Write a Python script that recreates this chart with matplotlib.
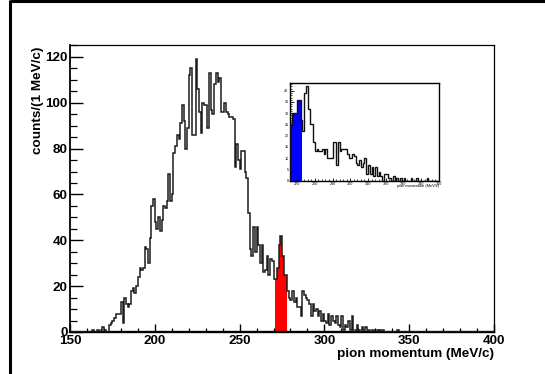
import matplotlib
matplotlib.use('Agg')
import matplotlib.pyplot as plt
import numpy as np
from matplotlib.ticker import MultipleLocator
from matplotlib.lines import Line2D

# ---------------- data ----------------
main_start = 150  # first bin low edge (MeV/c), 1 MeV/c bins
main_counts = [
    0, 0, 0, 0, 0, 0, 0, 0, 0, 0,            # 150-159
    0, 0, 0, 1, 0, 0, 1, 0, 1, 2,            # 160-169
    1, 0, 0, 3, 4, 5, 6, 8, 8, 8,            # 170-179
    13, 4, 15, 12, 11, 12, 18, 19, 17, 20,   # 180-189
    24, 28, 27, 28, 37, 36, 30, 41, 55, 58,  # 190-199
    48, 45, 50, 44, 49, 55, 54, 57, 69, 57,  # 200-209
    60, 78, 81, 86, 84, 91, 99, 92, 80, 89,  # 210-219
    112, 115, 86, 86, 119, 106, 96, 87, 100, 99,   # 220-229
    99, 89, 113, 97, 95, 108, 113, 109, 111, 96,   # 230-239
    96, 100, 96, 95, 94, 94, 93, 72, 82, 75,       # 240-249
    71, 79, 79, 70, 67, 52, 36, 33, 46, 35,        # 250-259
    46, 38, 30, 38, 26, 27, 33, 25, 32, 31,        # 260-269
    23, 23, 28, 38, 42, 33, 25, 25, 18, 15,        # 270-279
    14, 18, 13, 15, 11, 11, 7, 18, 16, 15,         # 280-289
    14, 12, 7, 12, 9, 10, 7, 9, 5, 8,              # 290-299
    5, 4, 8, 3, 7, 5, 4, 7, 3, 2,                  # 300-309
    7, 1, 3, 2, 5, 1, 7, 0, 1, 3,                  # 310-319
    1, 0, 2, 1, 2, 1, 1, 0, 1, 0,                  # 320-329
    0, 1, 0, 1, 1, 0, 0, 0, 0, 0,                  # 330-339
    0, 0, 0, 1, 0, 0, 0, 0, 0, 0,                  # 340-349
] + [0] * 50                                       # 350-399
red_range = (271, 278)

inset_start = 266
inset_counts = [
    25, 30, 30, 30, 36, 36, 27, 22, 39, 42,   # 266-275
    32, 25, 25, 17, 13, 14, 13, 13, 14, 12,   # 276-285
    14, 10, 10, 10, 17, 17, 7, 17, 13, 14,    # 286-295
    14, 14, 12, 10, 10, 12, 11, 8, 7, 9,      # 296-305
    6, 8, 10, 3, 7, 3, 6, 2, 6, 2,            # 306-315
    4, 2, 0, 3, 3, 1, 1, 0, 2, 0,             # 316-325
    1, 0, 1, 0, 1, 0, 0, 0, 1, 0,             # 326-335
    0, 1, 0, 0, 0, 0, 0, 1, 0, 0,             # 336-345
    0, 0, 0, 0,                               # 346-349
]
blue_range = (266, 273)

main_xticks = [150, 200, 250, 300, 350, 400]
main_yticks = [0, 20, 40, 60, 80, 100, 120]
inset_xticks = [270, 280, 290, 300, 310, 320, 330, 340, 350]
inset_yticks = [0, 5, 10, 15, 20, 25, 30, 35, 40]

xlabel = "pion momentum (MeV/c)"
ylabel = "counts/(1 MeV/c)"

# ---------------- figure ----------------
W, H = 545, 374
fig = plt.figure(figsize=(W / 100, H / 100), dpi=100)
fig.patch.set_facecolor('white')


def fx(px):
    return px / W


def fy(py):
    return 1 - py / H


FONT = 'Liberation Sans'
FS = 9.7

# outer frame (top and left black bars)
fig.add_artist(Line2D([fx(10.3), 1.0], [fy(1.2), fy(1.2)], transform=fig.transFigure,
                      color='black', lw=2.2, solid_capstyle='butt'))
fig.add_artist(Line2D([fx(10.3), fx(10.3)], [0.0, fy(0.0)], transform=fig.transFigure,
                      color='black', lw=2.2, solid_capstyle='butt'))

# main axes
ax = fig.add_axes([fx(70), fy(332), fx(494) - fx(70), fy(45) - fy(332)])
edges = np.arange(main_start, main_start + len(main_counts) + 1)
counts = np.array(main_counts, dtype=float)
lo = red_range[0] - main_start
hi = red_range[1] - main_start
ax.stairs(counts[lo:hi], edges[lo:hi + 1], fill=True, color='#ff0000', lw=0, zorder=2)
ax.stairs(counts, edges, color='#1c1c1c', lw=1.1, zorder=3)
ax.set_xlim(150, 400)
ax.set_ylim(0, 125.2)

ax.set_xticks(main_xticks)
ax.set_yticks(main_yticks)
ax.xaxis.set_minor_locator(MultipleLocator(10))
ax.yaxis.set_minor_locator(MultipleLocator(5))
ax.tick_params(which='both', direction='in', top=False, right=False, colors='black')
ax.xaxis.set_tick_params(which='major', length=5.8, width=1.0, pad=2.0)
ax.xaxis.set_tick_params(which='minor', length=3.1, width=0.9)
ax.yaxis.set_tick_params(which='major', length=9.3, width=1.0, pad=1.6)
ax.yaxis.set_tick_params(which='minor', length=4.8, width=0.9)
for lab in ax.get_xticklabels() + ax.get_yticklabels():
    lab.set_fontfamily(FONT)
    lab.set_fontweight('bold')
    lab.set_fontsize(FS)
ax.spines['left'].set_linewidth(1.3)
ax.spines['bottom'].set_linewidth(1.7)
ax.spines['top'].set_linewidth(0.9)
ax.spines['right'].set_linewidth(0.9)

fig.text(fx(494), fy(348.5), xlabel, ha='right', va='top', fontfamily=FONT,
         fontweight='bold', fontsize=FS)
fig.text(fx(38), fy(46.5), ylabel, ha='center', va='top', rotation=90,
         fontfamily=FONT, fontweight='bold', fontsize=FS)

# inset axes
ia = fig.add_axes([fx(290), fy(180.5), fx(439) - fx(290), fy(82.7) - fy(180.5)])
iedges = np.arange(inset_start, inset_start + len(inset_counts) + 1)
icounts = np.array(inset_counts, dtype=float)
blo = blue_range[0] - inset_start
bhi = blue_range[1] - inset_start
ia.stairs(icounts[blo:bhi], iedges[blo:bhi + 1], fill=True, color='#0000ff', lw=0, zorder=2)
ia.stairs(icounts, iedges, color='#111111', lw=1.0, zorder=3)
ia.set_xlim(266, 350)
ia.set_ylim(0, 43.6)
ia.set_xticks(inset_xticks)
ia.set_yticks(inset_yticks)
ia.xaxis.set_minor_locator(MultipleLocator(2))
ia.yaxis.set_minor_locator(MultipleLocator(1))
ia.tick_params(which='both', direction='in', top=False, right=False)
ia.xaxis.set_tick_params(which='major', length=2.2, width=0.6, pad=1.0)
ia.xaxis.set_tick_params(which='minor', length=1.1, width=0.5)
ia.yaxis.set_tick_params(which='major', length=3.2, width=0.6, pad=1.0)
ia.yaxis.set_tick_params(which='minor', length=1.6, width=0.5)
for lab in ia.get_xticklabels() + ia.get_yticklabels():
    lab.set_fontfamily(FONT)
    lab.set_fontsize(2.7)
for s in ia.spines.values():
    s.set_linewidth(1.0)
fig.text(fx(439), fy(184.5), xlabel, ha='right', va='top', fontfamily=FONT,
         fontsize=2.8)

fig.savefig('out.png', dpi=100, facecolor='white')
